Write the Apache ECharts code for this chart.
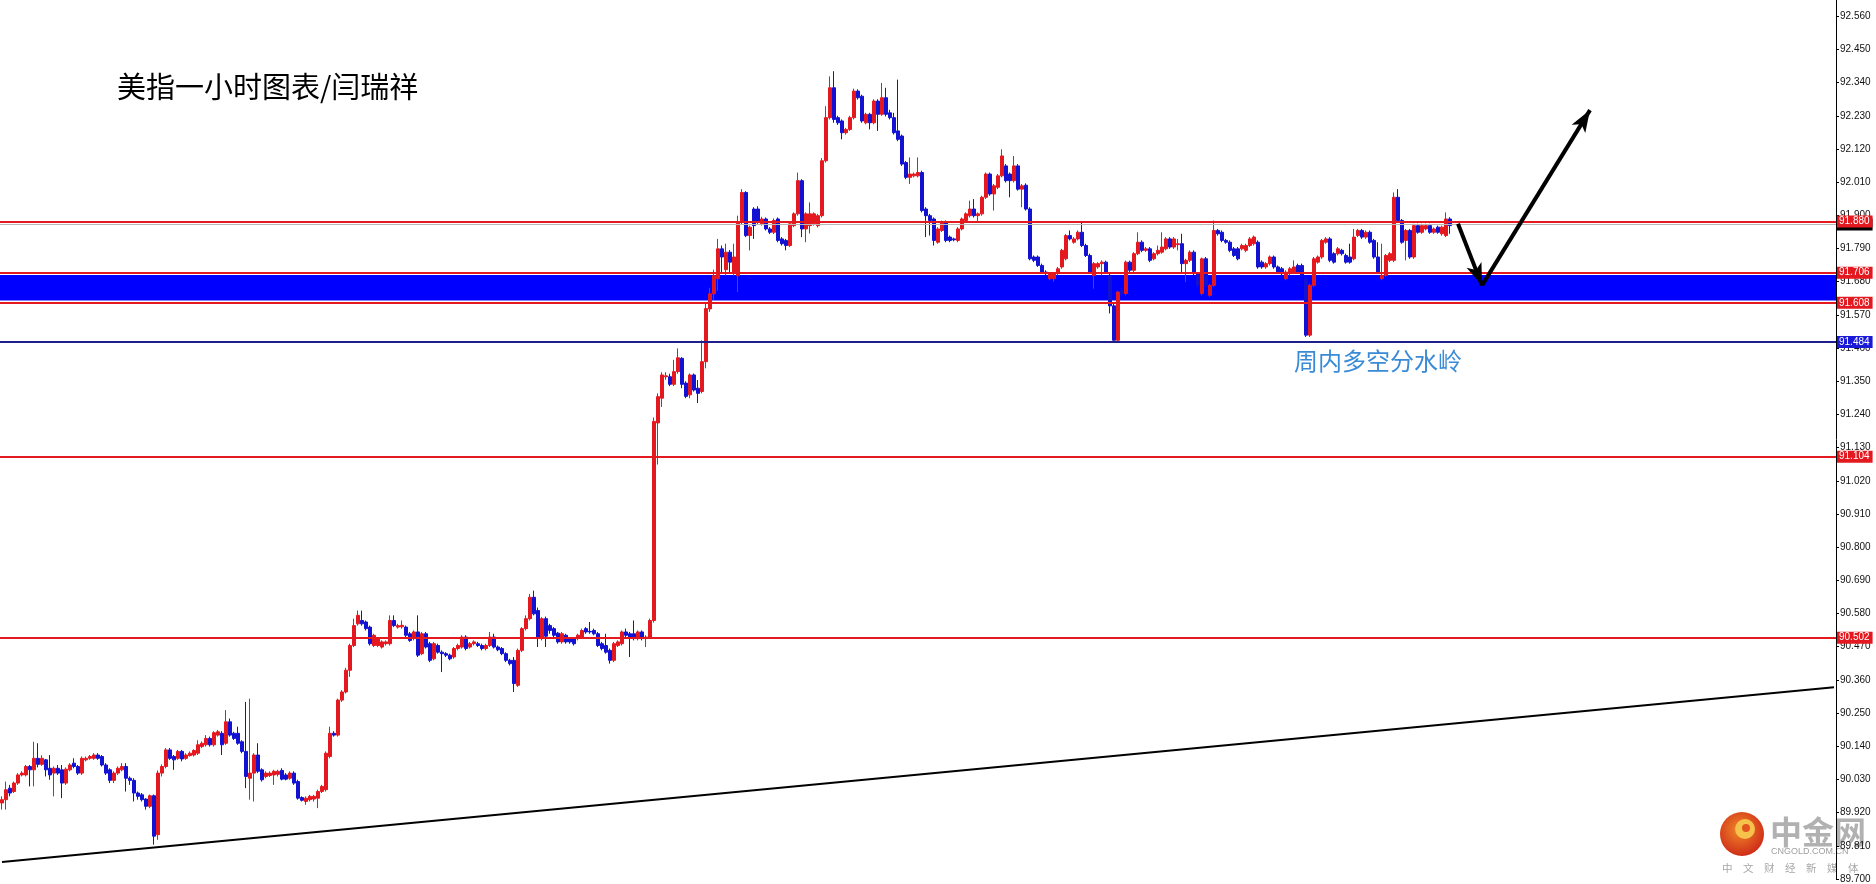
<!DOCTYPE html>
<html>
<head>
<meta charset="utf-8">
<title>美指一小时图表</title>
<script src="https://cdn.jsdelivr.net/npm/echarts@6/dist/echarts.min.js"></script>
<style>
  html, body { margin: 0; padding: 0; background: #fff; }
  #chart { width: 1876px; height: 884px; }
</style>
</head>
<body>
<div id="chart"></div>
<script>
// hourly slots on the x axis (bars + empty space on the right)
const slotCount = 459;
const hours = Array.from({ length: slotCount }, (_, i) => 'H' + i);

// candles as [open, close, low, high]
const barsA = [
  [89.952, 89.963, 89.930, 89.974], [89.963, 89.996, 89.930, 90.023], [90.001, 89.985, 89.974, 90.012], [89.990, 90.018, 89.985, 90.023],
  [90.018, 90.045, 90.012, 90.051], [90.045, 90.051, 90.040, 90.057], [90.045, 90.073, 90.040, 90.078], [90.073, 90.062, 90.007, 90.078],
  [90.062, 90.100, 90.007, 90.155], [90.100, 90.080, 90.070, 90.150], [90.080, 90.100, 90.075, 90.110], [90.095, 90.062, 90.040, 90.098],
  [90.067, 90.045, 90.029, 90.111], [90.051, 90.067, 89.974, 90.073], [90.067, 90.051, 90.045, 90.078], [90.062, 90.018, 89.968, 90.078],
  [90.018, 90.064, 90.012, 90.070], [90.062, 90.078, 90.057, 90.084], [90.084, 90.073, 90.067, 90.100], [90.073, 90.051, 90.045, 90.078],
  [90.051, 90.100, 90.045, 90.106], [90.095, 90.100, 90.090, 90.106], [90.100, 90.106, 90.095, 90.111], [90.100, 90.111, 90.095, 90.117],
  [90.111, 90.100, 90.095, 90.117], [90.106, 90.078, 90.073, 90.111], [90.078, 90.051, 90.045, 90.084], [90.062, 90.027, 90.018, 90.067],
  [90.027, 90.051, 90.018, 90.057], [90.051, 90.067, 90.045, 90.073], [90.062, 90.073, 90.057, 90.084], [90.073, 90.034, 89.990, 90.084],
  [90.034, 90.027, 90.012, 90.040], [90.027, 89.985, 89.957, 90.034], [89.985, 89.974, 89.963, 89.990], [89.979, 89.963, 89.957, 89.985],
  [89.965, 89.941, 89.930, 89.968], [89.941, 89.976, 89.935, 89.980], [89.976, 89.842, 89.814, 89.980], [89.847, 90.051, 89.830, 90.060],
  [90.051, 90.073, 90.040, 90.080], [90.073, 90.128, 90.067, 90.134], [90.128, 90.100, 90.095, 90.134], [90.106, 90.095, 90.062, 90.111],
  [90.100, 90.123, 90.095, 90.128], [90.123, 90.098, 90.090, 90.128], [90.100, 90.111, 90.095, 90.117], [90.109, 90.117, 90.106, 90.123],
  [90.111, 90.126, 90.106, 90.130], [90.117, 90.145, 90.111, 90.160], [90.139, 90.150, 90.134, 90.156], [90.145, 90.166, 90.139, 90.177],
  [90.166, 90.145, 90.139, 90.172], [90.145, 90.185, 90.139, 90.190], [90.177, 90.188, 90.172, 90.194], [90.183, 90.145, 90.111, 90.190],
  [90.150, 90.221, 90.145, 90.260], [90.221, 90.177, 90.172, 90.232], [90.183, 90.166, 90.161, 90.188], [90.183, 90.150, 90.145, 90.205],
  [90.155, 90.123, 90.117, 90.160], [90.123, 90.040, 90.001, 90.287], [90.034, 90.051, 89.963, 90.298], [90.051, 90.111, 89.957, 90.117],
  [90.111, 90.057, 90.051, 90.150], [90.062, 90.029, 90.023, 90.067], [90.040, 90.051, 90.034, 90.057], [90.043, 90.051, 90.038, 90.057],
  [90.045, 90.057, 90.012, 90.062], [90.047, 90.057, 90.040, 90.062], [90.060, 90.031, 90.027, 90.067], [90.045, 90.031, 90.027, 90.051],
  [90.034, 90.051, 90.029, 90.057], [90.051, 90.018, 90.012, 90.057], [90.023, 89.968, 89.963, 90.029], [89.970, 89.961, 89.957, 89.974],
  [89.957, 89.968, 89.946, 89.974], [89.963, 89.974, 89.957, 89.979], [89.965, 89.974, 89.957, 89.979], [89.968, 89.990, 89.935, 89.996],
  [89.990, 90.007, 89.985, 90.012], [89.996, 90.117, 89.990, 90.123], [90.106, 90.183, 90.100, 90.205], [90.183, 90.177, 90.172, 90.190],
  [90.177, 90.293, 90.172, 90.298], [90.293, 90.320, 90.287, 90.326], [90.320, 90.392, 90.315, 90.400], [90.392, 90.474, 90.370, 90.480],
  [90.474, 90.540, 90.469, 90.563], [90.546, 90.574, 90.540, 90.590]
];
const barsB = [
  [90.557, 90.546, 90.540, 90.590], [90.552, 90.530, 90.524, 90.557], [90.535, 90.480, 90.474, 90.540], [90.474, 90.508, 90.469, 90.513],
  [90.474, 90.497, 90.469, 90.502], [90.469, 90.486, 90.464, 90.491], [90.480, 90.486, 90.474, 90.491], [90.480, 90.557, 90.474, 90.574],
  [90.557, 90.540, 90.535, 90.574], [90.535, 90.540, 90.530, 90.546], [90.536, 90.541, 90.530, 90.557], [90.535, 90.508, 90.502, 90.540],
  [90.513, 90.491, 90.486, 90.519], [90.497, 90.519, 90.491, 90.524], [90.519, 90.442, 90.436, 90.574], [90.447, 90.513, 90.442, 90.519],
  [90.513, 90.469, 90.464, 90.519], [90.480, 90.425, 90.419, 90.486], [90.430, 90.480, 90.425, 90.486], [90.474, 90.452, 90.447, 90.480],
  [90.452, 90.447, 90.386, 90.458], [90.447, 90.442, 90.436, 90.452], [90.442, 90.430, 90.425, 90.447], [90.436, 90.464, 90.430, 90.469],
  [90.464, 90.474, 90.458, 90.480], [90.469, 90.502, 90.464, 90.508], [90.502, 90.464, 90.458, 90.508], [90.469, 90.480, 90.464, 90.486],
  [90.480, 90.486, 90.474, 90.491], [90.480, 90.474, 90.469, 90.486], [90.474, 90.464, 90.458, 90.480], [90.464, 90.474, 90.458, 90.480],
  [90.474, 90.502, 90.469, 90.519], [90.502, 90.469, 90.464, 90.513], [90.469, 90.460, 90.455, 90.474], [90.464, 90.447, 90.442, 90.469],
  [90.447, 90.425, 90.419, 90.452], [90.425, 90.414, 90.408, 90.430], [90.425, 90.348, 90.320, 90.436], [90.342, 90.458, 90.337, 90.464],
  [90.458, 90.530, 90.452, 90.535], [90.530, 90.563, 90.524, 90.574], [90.563, 90.634, 90.557, 90.645], [90.634, 90.579, 90.574, 90.656],
  [90.590, 90.502, 90.469, 90.600], [90.497, 90.563, 90.491, 90.568], [90.563, 90.505, 90.469, 90.570], [90.540, 90.524, 90.513, 90.546],
  [90.530, 90.508, 90.502, 90.535], [90.515, 90.486, 90.480, 90.519], [90.486, 90.513, 90.480, 90.519], [90.508, 90.486, 90.480, 90.513],
  [90.497, 90.486, 90.480, 90.502], [90.497, 90.480, 90.474, 90.502], [90.497, 90.508, 90.491, 90.513], [90.502, 90.524, 90.497, 90.530],
  [90.530, 90.519, 90.513, 90.535], [90.521, 90.519, 90.513, 90.552], [90.524, 90.513, 90.508, 90.530], [90.513, 90.474, 90.469, 90.519],
  [90.480, 90.464, 90.458, 90.486], [90.474, 90.452, 90.447, 90.513], [90.458, 90.425, 90.414, 90.464], [90.425, 90.480, 90.419, 90.486],
  [90.474, 90.486, 90.469, 90.491], [90.480, 90.519, 90.474, 90.524], [90.519, 90.508, 90.502, 90.530], [90.513, 90.502, 90.436, 90.519],
  [90.513, 90.497, 90.491, 90.557], [90.497, 90.519, 90.491, 90.524], [90.519, 90.497, 90.491, 90.524], [90.497, 90.502, 90.469, 90.508],
  [90.502, 90.557, 90.497, 90.563], [90.557, 91.217, 90.550, 91.230], [91.212, 91.299, 91.074, 91.310], [91.294, 91.371, 91.265, 91.380],
  [91.365, 91.368, 91.355, 91.380], [91.365, 91.340, 91.334, 91.375], [91.340, 91.382, 91.334, 91.421], [91.382, 91.428, 91.375, 91.459],
  [91.426, 91.340, 91.327, 91.430], [91.344, 91.300, 91.294, 91.350], [91.305, 91.371, 91.294, 91.376], [91.371, 91.321, 91.316, 91.376],
  [91.327, 91.310, 91.278, 91.354], [91.316, 91.415, 91.310, 91.486], [91.415, 91.591, 91.393, 91.610]
];
const barsC = [
  [91.590, 91.640, 91.580, 91.660], [91.640, 91.700, 91.620, 91.720], [91.690, 91.789, 91.650, 91.822], [91.789, 91.762, 91.712, 91.800],
  [91.720, 91.778, 91.700, 91.806], [91.778, 91.745, 91.712, 91.785], [91.712, 91.762, 91.700, 91.806], [91.700, 91.877, 91.646, 91.899],
  [91.877, 91.976, 91.870, 91.987], [91.976, 91.833, 91.828, 91.980], [91.833, 91.861, 91.784, 91.866], [91.921, 91.866, 91.822, 91.927],
  [91.921, 91.877, 91.872, 91.930], [91.872, 91.888, 91.866, 91.895], [91.888, 91.855, 91.850, 91.893], [91.855, 91.844, 91.838, 91.861],
  [91.844, 91.883, 91.838, 91.890], [91.888, 91.817, 91.811, 91.893], [91.822, 91.806, 91.800, 91.828], [91.817, 91.800, 91.784, 91.822],
  [91.800, 91.872, 91.795, 91.877], [91.866, 91.905, 91.861, 91.910], [91.905, 92.015, 91.899, 92.042], [92.015, 91.855, 91.828, 92.020],
  [91.855, 91.905, 91.811, 91.910], [91.866, 91.905, 91.840, 91.943], [91.872, 91.905, 91.866, 91.910], [91.866, 91.899, 91.860, 91.905],
  [91.899, 92.081, 91.893, 92.090], [92.081, 92.224, 92.075, 92.262], [92.224, 92.323, 92.218, 92.361], [92.323, 92.218, 92.207, 92.378],
  [92.224, 92.207, 92.200, 92.230], [92.213, 92.174, 92.152, 92.218], [92.174, 92.185, 92.168, 92.190], [92.185, 92.224, 92.180, 92.230],
  [92.224, 92.312, 92.218, 92.320], [92.312, 92.290, 92.284, 92.318], [92.295, 92.213, 92.207, 92.300], [92.207, 92.235, 92.202, 92.240],
  [92.235, 92.207, 92.185, 92.240], [92.207, 92.279, 92.202, 92.285], [92.279, 92.235, 92.180, 92.285], [92.235, 92.290, 92.230, 92.339],
  [92.290, 92.235, 92.228, 92.323], [92.240, 92.224, 92.218, 92.250], [92.224, 92.174, 92.168, 92.240], [92.180, 92.152, 92.146, 92.350],
  [92.163, 92.070, 92.064, 92.168], [92.075, 92.026, 92.020, 92.080], [92.026, 92.037, 92.004, 92.092], [92.031, 92.037, 92.026, 92.042],
  [92.031, 92.042, 92.026, 92.092], [92.042, 91.916, 91.910, 92.048], [91.921, 91.899, 91.828, 91.927], [91.899, 91.883, 91.833, 91.905],
  [91.888, 91.817, 91.800, 91.893], [91.811, 91.855, 91.806, 91.861], [91.850, 91.877, 91.845, 91.883], [91.877, 91.817, 91.811, 91.883],
  [91.828, 91.817, 91.811, 91.833], [91.822, 91.819, 91.814, 91.826], [91.817, 91.855, 91.811, 91.861], [91.855, 91.888, 91.850, 91.893],
  [91.883, 91.905, 91.877, 91.910], [91.899, 91.921, 91.893, 91.949], [91.921, 91.899, 91.893, 91.954], [91.899, 91.905, 91.877, 91.910],
  [91.905, 91.960, 91.899, 91.965], [91.960, 92.037, 91.954, 92.042], [92.037, 91.971, 91.965, 92.042], [91.971, 91.998, 91.916, 92.004],
  [91.993, 92.031, 91.987, 92.037], [92.031, 92.097, 92.026, 92.119], [92.064, 92.015, 92.009, 92.070], [92.037, 92.015, 91.960, 92.042],
  [92.015, 92.064, 92.009, 92.097], [92.064, 91.987, 91.982, 92.070], [91.987, 91.998, 91.927, 92.004], [92.000, 91.921, 91.916, 92.006],
  [91.921, 91.756, 91.751, 91.927], [91.762, 91.751, 91.745, 91.767], [91.762, 91.734, 91.729, 91.767], [91.734, 91.712, 91.707, 91.740],
  [91.712, 91.707, 91.701, 91.718], [91.690, 91.707, 91.685, 91.712], [91.690, 91.707, 91.680, 91.712], [91.707, 91.723, 91.701, 91.729],
  [91.729, 91.784, 91.723, 91.789], [91.756, 91.833, 91.751, 91.838], [91.833, 91.822, 91.817, 91.850], [91.811, 91.822, 91.806, 91.828],
  [91.822, 91.844, 91.817, 91.850], [91.844, 91.800, 91.795, 91.877], [91.800, 91.767, 91.762, 91.806], [91.767, 91.712, 91.707, 91.773],
  [91.701, 91.740, 91.657, 91.745]
];
const barsD = [
  [91.729, 91.740, 91.723, 91.745], [91.740, 91.745, 91.701, 91.751], [91.745, 91.712, 91.707, 91.750], [91.701, 91.600, 91.575, 91.710],
  [91.600, 91.486, 91.484, 91.610], [91.486, 91.646, 91.484, 91.650], [91.650, 91.640, 91.630, 91.660], [91.641, 91.745, 91.635, 91.750],
  [91.745, 91.718, 91.712, 91.750], [91.718, 91.773, 91.712, 91.778], [91.773, 91.811, 91.768, 91.844], [91.811, 91.784, 91.778, 91.817],
  [91.784, 91.789, 91.779, 91.795], [91.789, 91.751, 91.745, 91.795], [91.756, 91.773, 91.751, 91.778], [91.773, 91.784, 91.767, 91.800],
  [91.778, 91.795, 91.773, 91.844], [91.789, 91.822, 91.784, 91.828], [91.822, 91.795, 91.789, 91.828], [91.795, 91.822, 91.789, 91.828],
  [91.803, 91.806, 91.784, 91.822], [91.806, 91.740, 91.707, 91.839], [91.740, 91.751, 91.679, 91.756], [91.751, 91.778, 91.745, 91.784],
  [91.778, 91.707, 91.701, 91.784], [91.707, 91.668, 91.660, 91.712], [91.641, 91.756, 91.635, 91.760], [91.756, 91.668, 91.663, 91.762],
  [91.635, 91.668, 91.630, 91.673], [91.668, 91.850, 91.663, 91.883], [91.850, 91.839, 91.833, 91.855], [91.844, 91.817, 91.811, 91.850],
  [91.817, 91.811, 91.806, 91.822], [91.811, 91.784, 91.778, 91.817], [91.789, 91.767, 91.762, 91.795], [91.789, 91.756, 91.751, 91.795],
  [91.789, 91.800, 91.784, 91.806], [91.784, 91.800, 91.778, 91.806], [91.800, 91.822, 91.795, 91.828], [91.806, 91.828, 91.800, 91.833],
  [91.811, 91.729, 91.723, 91.817], [91.745, 91.729, 91.723, 91.751], [91.729, 91.740, 91.723, 91.745], [91.740, 91.762, 91.734, 91.767],
  [91.762, 91.729, 91.723, 91.767], [91.729, 91.712, 91.707, 91.734], [91.723, 91.707, 91.701, 91.729], [91.690, 91.712, 91.685, 91.718],
  [91.707, 91.723, 91.701, 91.729], [91.712, 91.729, 91.707, 91.751], [91.734, 91.712, 91.707, 91.740], [91.734, 91.701, 91.696, 91.740],
  [91.690, 91.503, 91.497, 91.700], [91.503, 91.668, 91.497, 91.673], [91.668, 91.756, 91.663, 91.762], [91.745, 91.762, 91.740, 91.767],
  [91.762, 91.817, 91.756, 91.822], [91.811, 91.822, 91.806, 91.828], [91.822, 91.751, 91.745, 91.828], [91.773, 91.745, 91.740, 91.778],
  [91.773, 91.789, 91.767, 91.795], [91.784, 91.773, 91.767, 91.789], [91.767, 91.745, 91.740, 91.773], [91.762, 91.745, 91.740, 91.806],
  [91.756, 91.828, 91.751, 91.855], [91.833, 91.850, 91.828, 91.855], [91.850, 91.828, 91.822, 91.855], [91.828, 91.844, 91.822, 91.850],
  [91.844, 91.811, 91.806, 91.850], [91.817, 91.762, 91.756, 91.822], [91.762, 91.712, 91.707, 91.811], [91.690, 91.701, 91.685, 91.806],
  [91.701, 91.767, 91.696, 91.772], [91.751, 91.773, 91.745, 91.778], [91.751, 91.960, 91.745, 91.976], [91.960, 91.883, 91.877, 91.987],
  [91.883, 91.811, 91.806, 91.888], [91.817, 91.850, 91.751, 91.855], [91.850, 91.762, 91.756, 91.855], [91.762, 91.866, 91.756, 91.872],
  [91.866, 91.844, 91.839, 91.872], [91.844, 91.866, 91.839, 91.872], [91.855, 91.866, 91.850, 91.872], [91.866, 91.844, 91.839, 91.872],
  [91.844, 91.855, 91.839, 91.860], [91.861, 91.844, 91.839, 91.866], [91.839, 91.861, 91.833, 91.866], [91.833, 91.888, 91.828, 91.910],
  [91.888, 91.866, 91.839, 91.894]
];
const candles = barsA.concat(barsB, barsC, barsD);

// horizontal levels drawn on the chart
const redLevels = [91.880, 91.706, 91.608, 91.104, 90.502];
const pivotLevel = 91.484;
const bidLevel = 91.866;
const zoneBand = [91.618, 91.702];

// trend line and the two forecast arrows, [slot, price]
const trendLine = [[0, 89.756], [458, 90.336]];
const arrowDown = [[364, 91.872], [370, 91.668]];
const arrowUp = [[370, 91.668], [397, 92.249]];

// price axis ticks: 89.700, 89.810 ... 92.560
const axisMin = 89.70;
const axisMax = 92.614;
const axisStep = 0.11;

const titleText = '美指一小时图表/闫瑞祥';
const noteText = '周内多空分水岭';

const RED = '#e3191f';
const BLUE = '#1212d0';
const cjk = '"Noto Sans CJK SC", sans-serif';

const chart = echarts.init(document.getElementById('chart'));

// price tag drawn at the right end of a horizontal line
const lineLabel = (bg) => ({
  show: true,
  position: 'end',
  distance: 1,
  color: '#fff',
  fontSize: 10,
  fontFamily: 'Liberation Sans',
  lineHeight: 11,
  padding: [1, 3, 0, 2],
  backgroundColor: bg,
  formatter: p => p.name
});

const option = {
  animation: false,
  backgroundColor: '#fff',
  grid: { left: 0, right: 40, top: 0, bottom: 1 },
  xAxis: {
    type: 'category',
    data: hours,
    boundaryGap: true,
    axisLine: { show: false },
    axisTick: { show: false },
    axisLabel: { show: false },
    splitLine: { show: false }
  },
  yAxis: {
    type: 'value',
    position: 'right',
    min: axisMin,
    max: axisMax,
    interval: axisStep,
    axisLine: { show: true, lineStyle: { color: '#000', width: 1 } },
    axisTick: { show: true, length: 3, lineStyle: { color: '#000' } },
    axisLabel: {
      margin: 4,
      color: '#111',
      fontSize: 10,
      fontFamily: 'Liberation Sans',
      showMaxLabel: false,
      formatter: v => v.toFixed(3)
    },
    splitLine: { show: false }
  },
  series: [
    {
      name: 'zone',
      type: 'line',
      data: [],
      z: 1,
      silent: true,
      markArea: {
        silent: true,
        itemStyle: { color: '#0000ff', opacity: 1 },
        data: [[{ yAxis: zoneBand[0] }, { yAxis: zoneBand[1] }]]
      }
    },
    {
      name: 'bid',
      type: 'line',
      data: [],
      z: 2,
      silent: true,
      markLine: {
        silent: true,
        symbol: 'none',
        lineStyle: { color: '#b8b8b8', width: 1, type: 'solid' },
        label: lineLabel('#000'),
        data: [{ yAxis: bidLevel, name: bidLevel.toFixed(3) }]
      }
    },
    {
      name: 'USDX H1',
      type: 'candlestick',
      data: candles,
      z: 3,
      barWidth: 3,
      itemStyle: {
        color: RED,
        color0: BLUE,
        borderColor: RED,
        borderColor0: BLUE,
        borderWidth: 1
      }
    },
    {
      name: 'levels',
      type: 'line',
      data: [],
      z: 4,
      silent: true,
      markLine: {
        silent: true,
        symbol: 'none',
        lineStyle: { color: RED, width: 2, type: 'solid' },
        label: lineLabel(RED),
        data: redLevels.map(v => ({ yAxis: v, name: v.toFixed(3) }))
      }
    },
    {
      name: 'pivot',
      type: 'line',
      data: [],
      z: 4,
      silent: true,
      markLine: {
        silent: true,
        symbol: 'none',
        lineStyle: { color: '#1e1e8c', width: 2, type: 'solid' },
        label: lineLabel('#1a1ad8'),
        data: [{ yAxis: pivotLevel, name: pivotLevel.toFixed(3) }]
      }
    },
    {
      name: 'trend',
      type: 'line',
      data: [],
      z: 5,
      silent: true,
      markLine: {
        silent: true,
        symbol: 'none',
        label: { show: false },
        lineStyle: { color: '#000', width: 2, type: 'solid' },
        data: [[{ coord: trendLine[0] }, { coord: trendLine[1] }]]
      }
    },
    {
      name: 'arrows',
      type: 'line',
      data: [],
      z: 6,
      silent: true,
      markLine: {
        silent: true,
        symbol: ['none', 'arrow'],
        symbolSize: [12, 22],
        label: { show: false },
        lineStyle: { color: '#000', width: 4, type: 'solid' },
        data: [
          [{ coord: arrowDown[0] }, { coord: arrowDown[1] }],
          [{ coord: arrowUp[0] }, { coord: arrowUp[1] }]
        ]
      }
    }
  ],
  graphic: [
    {
      type: 'text', x: 117, y: 87, z: 10,
      style: { text: titleText, fontSize: 29, fontFamily: cjk, fill: '#000', verticalAlign: 'middle' }
    },
    {
      type: 'text', x: 1294, y: 361, z: 10,
      style: { text: noteText, fontSize: 24, fontFamily: cjk, fill: '#3a8bd6', verticalAlign: 'middle' }
    },
    // watermark logo
    {
      type: 'group', z: 20,
      children: [
        {
          type: 'circle',
          shape: { cx: 1742, cy: 834, r: 22 },
          style: {
            fill: new echarts.graphic.RadialGradient(0.45, 0.4, 0.6, [
              { offset: 0, color: '#f08a2a' },
              { offset: 1, color: '#cf2d18' }
            ])
          }
        },
        { type: 'circle', shape: { cx: 1745, cy: 829, r: 10 }, style: { fill: '#f7c24c' } },
        { type: 'circle', shape: { cx: 1746, cy: 828, r: 4 }, style: { fill: '#e0561e' } },
        {
          type: 'text', x: 1770, y: 832,
          style: { text: '中金网', fontSize: 32, fontWeight: 'bold', fontFamily: cjk, fill: '#a8a8a8', verticalAlign: 'middle', opacity: 0.9 }
        },
        {
          type: 'text', x: 1771, y: 852,
          style: { text: 'CNGOLD.COM.CN', fontSize: 9, fontFamily: 'Liberation Sans', fill: '#a0a0a0', verticalAlign: 'middle' }
        },
        {
          type: 'text', x: 1722, y: 868,
          style: { text: '中　文　财　经　新　媒　体', fontSize: 10.5, fontFamily: cjk, fill: '#a8a8a8', verticalAlign: 'middle' }
        }
      ]
    }
  ]
};

chart.setOption(option);
window.addEventListener('resize', () => chart.resize());
</script>
</body>
</html>
